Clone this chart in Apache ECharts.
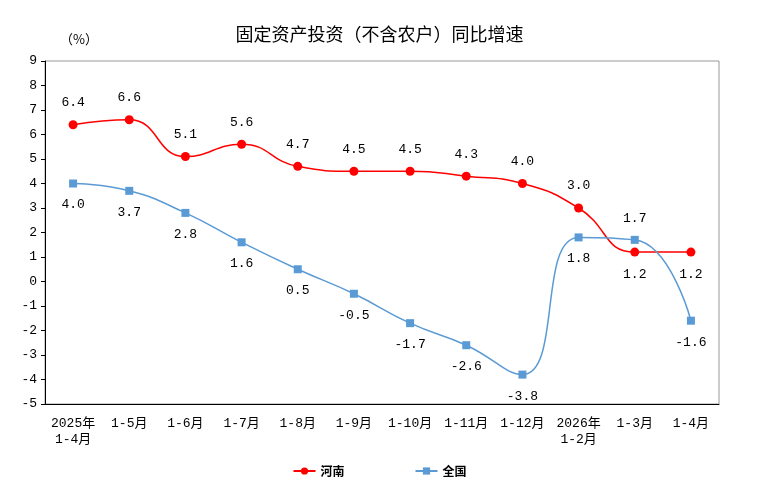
<!DOCTYPE html>
<html>
<head>
<meta charset="utf-8">
<script src="https://cdn.jsdelivr.net/npm/echarts@6/dist/echarts.min.js"></script>
<style>
  html, body { margin: 0; padding: 0; background: #fff; }
  #main { width: 759px; height: 504px; }
</style>
</head>
<body>
<div id="main"></div>
<script>
// categories and series values
const months = ['2025年\n1-4月', '1-5月', '1-6月', '1-7月', '1-8月', '1-9月', '1-10月', '1-11月', '1-12月', '2026年\n1-2月', '1-3月', '1-4月'];
const henan = [6.4, 6.6, 5.1, 5.6, 4.7, 4.5, 4.5, 4.3, 4.0, 3.0, 1.2, 1.2];
const quanguo = [4.0, 3.7, 2.8, 1.6, 0.5, -0.5, -1.7, -2.6, -3.8, 1.8, 1.7, -1.6];
// which points carry their label on the other side
const henanBelow = [10, 11];
const quanguoAbove = [10];

const FONT = '"Liberation Mono", "Noto Sans CJK SC", monospace';
const CJK = '"Noto Sans CJK SC", sans-serif';

var dom = document.getElementById('main');
var myChart = echarts.init(dom, null, { renderer: 'canvas' });

function points(values, flip, normal) {
    return values.map((v, i) => ({
        value: v,
        label: { position: flip.includes(i) ? (normal === 'top' ? 'bottom' : 'top') : normal }
    }));
}

var option = {
    animation: false,
    title: {
        text: '固定资产投资（不含农户）同比增速',
        left: 'center',
        top: 20,
        textStyle: { fontFamily: CJK, fontSize: 18, fontWeight: 'normal', color: '#000' }
    },
    graphic: [{
        type: 'text',
        left: 60,
        top: 33,
        style: { text: '（%）', fontFamily: CJK, fontSize: 13, fill: '#000' }
    }],
    legend: {
        bottom: 22,
        left: 'center',
        itemGap: 70,
        itemWidth: 22,
        itemHeight: 9,
        textStyle: { fontFamily: CJK, fontSize: 12, color: '#000', fontWeight: 'bold' },
        data: ['河南', '全国']
    },
    grid: { left: 45, right: 40, top: 61, bottom: 100, show: true, borderColor: '#999', borderWidth: 1 },
    xAxis: {
        type: 'category',
        data: months,
        boundaryGap: true,
        axisLine: { onZero: false, lineStyle: { color: '#000', width: 1 } },
        axisTick: { inside: true, length: 5, lineStyle: { color: '#000' } },
        axisLabel: { fontFamily: FONT, fontSize: 13, color: '#000', margin: 12, lineHeight: 16, interval: 0 }
    },
    yAxis: {
        type: 'value',
        min: -5,
        max: 9,
        interval: 1,
        splitLine: { show: false },
        axisLine: { show: true, lineStyle: { color: '#000' } },
        axisTick: { show: true, length: 4, lineStyle: { color: '#000' } },
        axisLabel: { fontFamily: FONT, fontSize: 13, color: '#000', margin: 8 }
    },
    series: [
        {
            name: '河南',
            type: 'line',
            smooth: 0.5,
            data: points(henan, henanBelow, 'top'),
            symbol: 'circle',
            symbolSize: 9,
            itemStyle: { color: '#FF0000' },
            lineStyle: { color: '#FF0000', width: 1.5 },
            label: {
                show: true,
                distance: 11,
                fontFamily: FONT,
                fontSize: 13,
                color: '#000',
                formatter: p => p.value.toFixed(1)
            }
        },
        {
            name: '全国',
            type: 'line',
            smooth: 0.5,
            data: points(quanguo, quanguoAbove, 'bottom'),
            symbol: 'rect',
            symbolSize: 8,
            itemStyle: { color: '#5B9BD5' },
            lineStyle: { color: '#5B9BD5', width: 1.5 },
            label: {
                show: true,
                distance: 11,
                fontFamily: FONT,
                fontSize: 13,
                color: '#000',
                formatter: p => p.value.toFixed(1)
            }
        }
    ]
};

myChart.setOption(option);
window.addEventListener('resize', myChart.resize);
</script>
</body>
</html>
